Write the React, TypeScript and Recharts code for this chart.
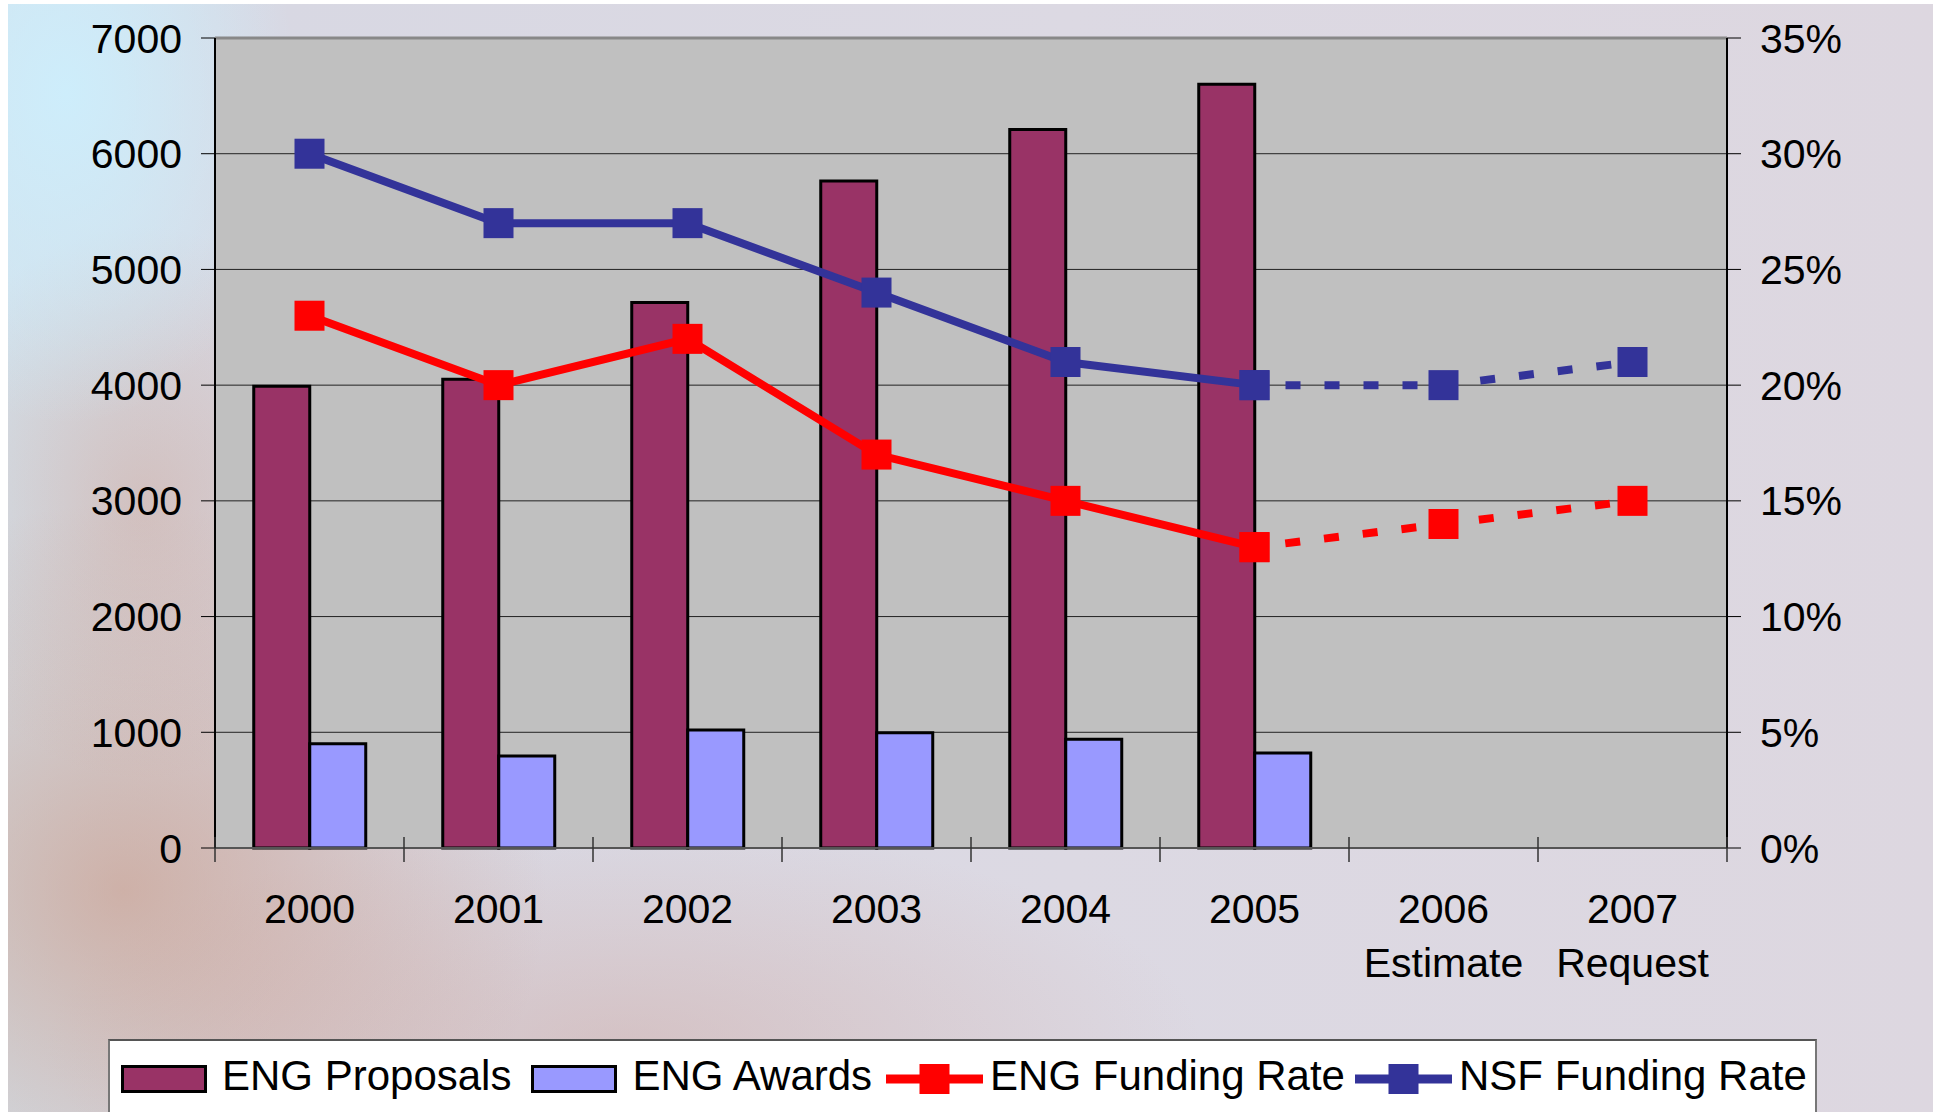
import {
  ComposedChart,
  Bar,
  Line,
  XAxis,
  YAxis,
  CartesianGrid,
  ReferenceLine,
  Legend,
} from "recharts";

const categories = ["2000", "2001", "2002", "2003", "2004", "2005", "2006", "2007"];
const subLabels = ["", "", "", "", "", "", "Estimate", "Request"];
const engProposals = [3990, 4050, 4715, 5765, 6210, 6600, null, null];
const engAwards = [900, 795, 1020, 995, 940, 820, null, null];
const engFundingRate = [23, 20, 22, 17, 15, 13, 14, 15];
const nsfFundingRate = [30, 27, 27, 24, 21, 20, 20, 21];
const lastActual = 5; // 2005 is the last actual year, later ones are projected

const countTicks = [0, 1000, 2000, 3000, 4000, 5000, 6000, 7000];
const rateTicks = [0, 5, 10, 15, 20, 25, 30, 35];
const legendOrder = ["ENG Proposals", "ENG Awards", "ENG Funding Rate", "NSF Funding Rate"];

const rows = categories.map((year, i) => ({
  year,
  proposals: engProposals[i],
  awards: engAwards[i],
  engActual: i <= lastActual ? engFundingRate[i] : null,
  engProj: i >= lastActual ? engFundingRate[i] : null,
  nsfActual: i <= lastActual ? nsfFundingRate[i] : null,
  nsfProj: i >= lastActual ? nsfFundingRate[i] : null,
}));

const W = 1925;
const H = 1108;
const LEFT_AXIS_W = 207;
const RIGHT_AXIS_W = 206;
const BAND = (W - LEFT_AXIS_W - RIGHT_AXIS_W) / categories.length;
const FONT = 41;
const legendGaps = [20, 14, 10, 0];

const squareDot = (color: string) => (props: any) => {
  const { cx, cy, index, value } = props;
  if (cx == null || cy == null || value == null) return <g key={`e-${index}`} />;
  return <rect key={`d-${index}`} x={cx - 15} y={cy - 15} width={30} height={30} fill={color} />;
};

const YearTick = (props: any) => {
  const { x, y, payload, index } = props;
  const half = BAND / 2;
  const sub = subLabels[index];
  return (
    <g>
      <line x1={x - half} x2={x - half} y1={y - 11} y2={y + 14} stroke="#333" strokeWidth={1.5} />
      {index === categories.length - 1 && (
        <line x1={x + half} x2={x + half} y1={y - 11} y2={y + 14} stroke="#333" strokeWidth={1.5} />
      )}
      <text x={x} y={y + 75} textAnchor="middle" fontSize={FONT} fill="#000">
        {payload.value}
      </text>
      {sub && (
        <text x={x} y={y + 129} textAnchor="middle" fontSize={FONT} fill="#000">
          {sub}
        </text>
      )}
    </g>
  );
};

const renderLegend = (props: any) => {
  const items = (props.payload || [])
    .filter((p: any) => p.type !== "none")
    .sort((a: any, b: any) => legendOrder.indexOf(a.value) - legendOrder.indexOf(b.value));
  return (
    <div
      style={{
        display: "flex",
        alignItems: "center",
        height: 76,
        paddingLeft: 11,
        fontSize: 42,
        color: "#000",
        whiteSpace: "nowrap",
      }}
    >
      {items.map((p: any, i: number) => (
        <div key={i} style={{ display: "flex", alignItems: "center", marginRight: legendGaps[i] }}>
          {p.type === "rect" ? (
            <svg width={86} height={28} style={{ marginRight: 15 }}>
              <rect x={1.5} y={1.5} width={83} height={25} fill={p.color} stroke="#000" strokeWidth={3} />
            </svg>
          ) : (
            <svg width={97} height={32} style={{ marginRight: 7 }}>
              <line x1={0} x2={97} y1={16} y2={16} stroke={p.color} strokeWidth={9} />
              <rect x={33.5} y={1} width={30} height={30} fill={p.color} />
            </svg>
          )}
          <span style={{ position: "relative", top: -3 }}>{p.value}</span>
        </div>
      ))}
    </div>
  );
};

export default function App() {
  return (
    <div
      style={{
        position: "fixed",
        left: 8,
        top: 4,
        width: W,
        height: H,
        overflow: "hidden",
        fontFamily: '"Liberation Sans", Arial, sans-serif',
        background:
          "radial-gradient(ellipse 12% 30% at 3% 8%, rgba(205,238,252,0.95), rgba(205,238,252,0) 100%)," +
          "radial-gradient(ellipse 12% 25% at 7% 45%, rgba(205,150,130,0.4), rgba(205,150,130,0) 100%)," +
          "radial-gradient(ellipse 22% 35% at 6% 80%, rgba(200,140,115,0.55), rgba(200,140,115,0) 100%)," +
          "radial-gradient(ellipse 30% 20% at 32% 94%, rgba(205,160,150,0.4), rgba(205,160,150,0) 100%)," +
          "linear-gradient(90deg, #d3e1ec 0%, #d8d8e3 14%, #dcd9e3 55%, #ddd7e0 100%)",
      }}
    >
      <ComposedChart
        width={W}
        height={H}
        data={rows}
        margin={{ top: 34, right: 0, left: 0, bottom: 144 }}
        barCategoryGap="20.5%"
        barGap={0}
      >
        <CartesianGrid
          yAxisId="left"
          vertical={false}
          fill="#C0C0C0"
          fillOpacity={1}
          stroke="#222"
          strokeWidth={1}
        />
        <XAxis
          dataKey="year"
          height={120}
          interval={0}
          tickLine={false}
          tickSize={0}
          tickMargin={0}
          axisLine={{ stroke: "#555", strokeWidth: 2 }}
          tick={<YearTick />}
        />
        <YAxis
          yAxisId="left"
          width={LEFT_AXIS_W}
          domain={[0, 7000]}
          ticks={countTicks}
          interval={0}
          tickSize={14}
          tickMargin={19}
          axisLine={{ stroke: "#000", strokeWidth: 2 }}
          tickLine={{ stroke: "#000" }}
          tick={{ fontSize: FONT, fill: "#000" }}
        />
        <YAxis
          yAxisId="right"
          orientation="right"
          width={RIGHT_AXIS_W}
          domain={[0, 35]}
          ticks={rateTicks}
          interval={0}
          tickSize={14}
          tickMargin={19}
          tickFormatter={(v: number) => `${v}%`}
          axisLine={{ stroke: "#000", strokeWidth: 2 }}
          tickLine={{ stroke: "#000" }}
          tick={{ fontSize: FONT, fill: "#000" }}
        />
        <ReferenceLine yAxisId="left" y={7000} stroke="#888" strokeWidth={3} />
        <Bar
          yAxisId="left"
          dataKey="proposals"
          name="ENG Proposals"
          fill="#993366"
          stroke="#000"
          strokeWidth={3}
          legendType="rect"
          isAnimationActive={false}
        />
        <Bar
          yAxisId="left"
          dataKey="awards"
          name="ENG Awards"
          fill="#9999FF"
          stroke="#000"
          strokeWidth={3}
          legendType="rect"
          isAnimationActive={false}
        />
        <Line
          yAxisId="right"
          dataKey="engProj"
          stroke="#FF0000"
          strokeWidth={8}
          strokeDasharray="15 24"
          strokeDashoffset={8}
          dot={squareDot("#FF0000")}
          activeDot={false}
          legendType="none"
          isAnimationActive={false}
        />
        <Line
          yAxisId="right"
          dataKey="nsfProj"
          stroke="#333399"
          strokeWidth={8}
          strokeDasharray="15 24"
          strokeDashoffset={8}
          dot={squareDot("#333399")}
          activeDot={false}
          legendType="none"
          isAnimationActive={false}
        />
        <Line
          yAxisId="right"
          dataKey="engActual"
          name="ENG Funding Rate"
          stroke="#FF0000"
          strokeWidth={8}
          dot={squareDot("#FF0000")}
          activeDot={false}
          legendType="line"
          isAnimationActive={false}
        />
        <Line
          yAxisId="right"
          dataKey="nsfActual"
          name="NSF Funding Rate"
          stroke="#333399"
          strokeWidth={8}
          dot={squareDot("#333399")}
          activeDot={false}
          legendType="line"
          isAnimationActive={false}
        />
        <Legend
          layout="horizontal"
          verticalAlign="middle"
          content={renderLegend}
          wrapperStyle={{
            position: "absolute",
            left: 100,
            top: 1035,
            width: 1709,
            height: 110,
            background: "#fff",
            borderTop: "2px solid #555",
            borderLeft: "2px solid #777",
            borderRight: "2px solid #777",
            boxSizing: "border-box",
          }}
        />
      </ComposedChart>
    </div>
  );
}
